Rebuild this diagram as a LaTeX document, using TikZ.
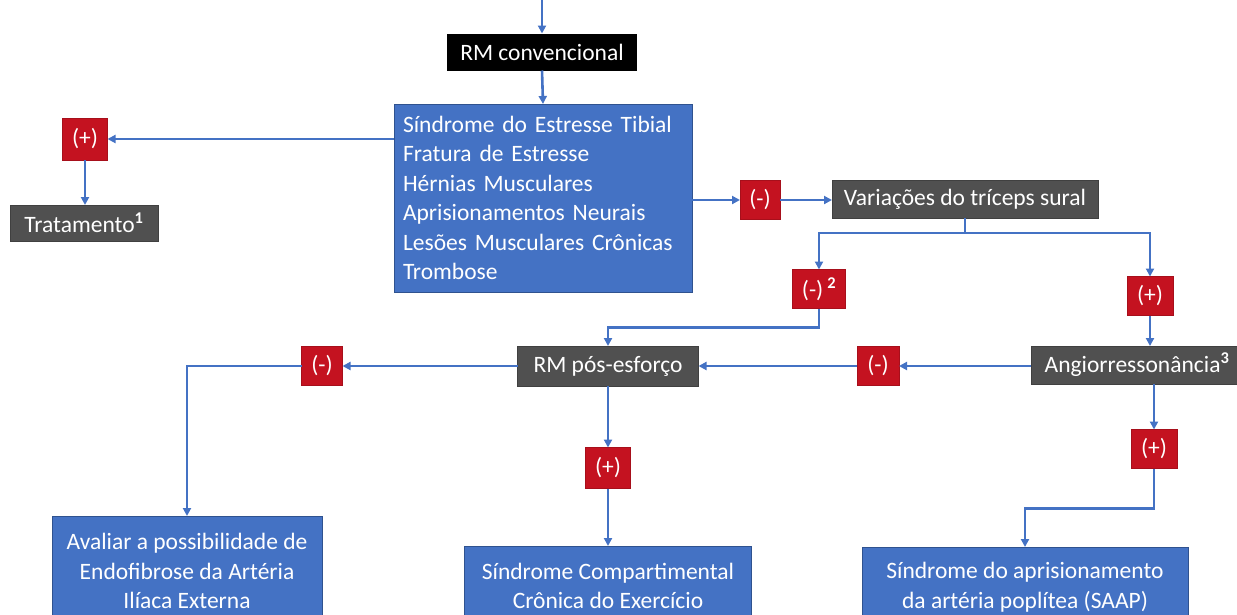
\documentclass[tikz,border=0pt]{standalone}
\usepackage{fontspec}
\setmainfont{Carlito}
\usetikzlibrary{arrows.meta}
\definecolor{bxblue}{RGB}{68,114,196}
\definecolor{bxborder}{RGB}{47,82,143}
\definecolor{bxred}{RGB}{196,18,32}
\definecolor{bxgrey}{RGB}{80,80,80}
\definecolor{lnblue}{RGB}{68,114,196}
\begin{document}
\begin{tikzpicture}[x=1pt,y=-1pt,
  every node/.style={text=white,font=\fontsize{23.5}{29.5}\selectfont,inner sep=0pt,outer sep=0pt},
  blackbox/.style={fill=black,minimum height=37},
  greybox/.style={fill=bxgrey,draw=bxgrey!80!black,line width=0.6pt,minimum height=38},
  bluebox/.style={fill=bxblue,draw=bxborder,line width=0.8pt,align=center},
  redbox/.style={fill=bxred,draw=bxred!85!black,line width=0.6pt,minimum height=39},
  conn/.style={draw=lnblue,line width=2.6pt,-{Triangle[length=8pt,width=8pt]}},
  plain/.style={draw=lnblue,line width=2.6pt}]
\useasboundingbox (0,0) rectangle (1237,614);
\clip (0,0) rectangle (1237,614);

% nodes
\node[blackbox,minimum width=190] (rmconv) at (542,52) {RM convencional};
\node[bluebox,minimum width=298,minimum height=188,text width=280,align=left] (lista) at (543,198)
  {Síndrome do Estresse Tibial\\Fratura de Estresse\\Hérnias Musculares\\Aprisionamentos Neurais\\Lesões Musculares Crônicas\\Trombose};
\node[redbox,minimum width=45,minimum height=42] (p1) at (85,139) {(+)};
\node[greybox,minimum width=148,minimum height=36] (trat) at (84,223) {Tratamento\textsuperscript{\textbf{1}}};
\node[redbox,minimum width=40] (m1) at (760,200) {(-)};
\node[greybox,minimum width=266] (var) at (965,199) {Variações do tríceps sural};
\node[redbox,minimum width=53] (m2) at (819,289) {(-)\,\textsuperscript{\textbf{2}}};
\node[redbox,minimum width=46] (p2) at (1150,296) {(+)};
\node[greybox,minimum width=181,minimum height=40] (rmpos) at (608,366) {RM pós-esforço};
\node[redbox,minimum width=42] (m3) at (878,366) {(-)};
\node[greybox,minimum width=212] (angio) at (1137,365) {Angiorressonância\textsuperscript{\textbf{3}}};
\node[redbox,minimum width=41] (m4) at (322,366) {(-)};
\node[redbox,minimum width=45,minimum height=41] (p3) at (608,468) {(+)};
\node[redbox,minimum width=46] (p4) at (1154,449) {(+)};
\node[bluebox,minimum width=270,minimum height=110] (aval) at (187,571)
  {Avaliar a possibilidade de\\Endofibrose da Artéria\\Ilíaca Externa};
\node[bluebox,minimum width=287,minimum height=80] (scec) at (608,586)
  {Síndrome Compartimental\\Crônica do Exercício};
\node[bluebox,minimum width=326,minimum height=80] (saap) at (1025,587)
  {Síndrome do aprisionamento\\da artéria poplítea (SAAP)};

% connectors
\coordinate (top) at (542,0);
\draw[conn] (top) -- (rmconv.north);
\draw[conn] (rmconv.south) -- (lista.north);
\draw[conn] (p1 -| lista.west) -- (p1.east);
\draw[conn] (p1.south) -- (p1.south |- trat.north);
\draw[conn] (lista.east |- m1) -- (m1.west);
\draw[conn] (m1.east) -- (var.west |- m1);
\draw[plain] (var.south) -- ++(0,15) coordinate (j1);
\draw[conn] (j1) -| (m2.north);
\draw[conn] (j1) -| (p2.north);
\draw[conn] (m2.south) -- ++(0,19) -| (rmpos.north);
\draw[conn] (p2.south) -- (p2.south |- angio.north);
\draw[conn] (angio.west |- m3) -- (m3.east);
\draw[conn] (m3.west) -- (rmpos.east |- m3);
\draw[conn] (rmpos.west) -- (m4.east);
\draw[conn] (m4.west) -| (aval.north);
\draw[conn] (rmpos.south) -- (p3.north);
\draw[conn] (p3.south) -- (scec.north);
\draw[conn] (p4.north |- angio.south) -- (p4.north);
\draw[conn] (p4.south) -- ++(0,40) -| (saap.north);
\end{tikzpicture}
\end{document}
